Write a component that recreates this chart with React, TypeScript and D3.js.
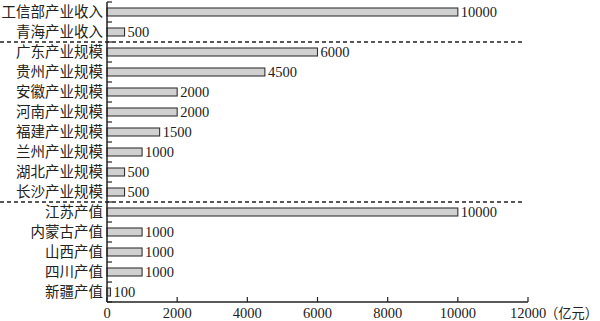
import React from "react";
import * as d3 from "d3";

const categories = [
  "工信部产业收入", "青海产业收入",
  "广东产业规模", "贵州产业规模", "安徽产业规模", "河南产业规模", "福建产业规模", "兰州产业规模", "湖北产业规模", "长沙产业规模",
  "江苏产值", "内蒙古产值", "山西产值", "四川产值", "新疆产值",
];
const values = [10000, 500, 6000, 4500, 2000, 2000, 1500, 1000, 500, 500, 10000, 1000, 1000, 1000, 100];
const xTicks = [0, 2000, 4000, 6000, 8000, 10000, 12000];
const groupBreaks = ["广东产业规模", "江苏产值"];
const unitLabel = "（亿元）";

const W = 600, H = 321;
const FONT_NUM = "'Liberation Serif', 'Noto Sans CJK SC', serif";
const FONT_CJK = "'Liberation Serif', 'Noto Sans CJK SC', serif";

export default function App() {
  const x = d3.scaleLinear().domain([0, 12000]).range([107, 528]);
  const y = d3.scaleBand<string>().domain(categories).range([2, 302]).padding(0);
  const bw = y.bandwidth();
  const barH = bw * 0.4;
  const x0 = x(0);
  const yBottom = y.range()[1];
  const boundaries = categories.map((c) => y(c) as number).concat([yBottom]);
  const ink = "#222";

  return (
    <div style={{ position: "fixed", left: 0, top: 0 }}>
      <svg width={W} height={H} style={{ display: "block", background: "#fff" }}>
        {categories.map((c, i) => (
          <rect
            key={c}
            x={x0}
            y={(y(c) as number) + (bw - barH) / 2}
            width={x(values[i]) - x0}
            height={barH}
            fill="#d0d0d0"
            stroke="#333"
            strokeWidth={1.1}
          />
        ))}
        {categories.map((c, i) => (
          <text
            key={"v" + c}
            x={x(values[i]) + 3}
            y={(y(c) as number) + bw / 2}
            dy="0.35em"
            fontFamily={FONT_NUM}
            fontSize={14.5}
            fill={ink}
          >
            {values[i]}
          </text>
        ))}
        {categories.map((c) => (
          <text
            key={"c" + c}
            x={103}
            y={(y(c) as number) + bw / 2}
            dy="0.36em"
            textAnchor="end"
            fontFamily={FONT_CJK}
            fontSize={14.5}
            fill={ink}
          >
            {c}
          </text>
        ))}
        {groupBreaks.map((c) => (
          <line
            key={"d" + c}
            x1={0}
            x2={523}
            y1={y(c) as number}
            y2={y(c) as number}
            stroke={ink}
            strokeWidth={1.3}
            strokeDasharray="4,3"
          />
        ))}
        <line x1={x0} x2={x0} y1={boundaries[0]} y2={yBottom} stroke={ink} strokeWidth={1.5} />
        {boundaries.map((b, i) => (
          <line key={"yt" + i} x1={x0} x2={x0 + 5} y1={b} y2={b} stroke={ink} strokeWidth={1.2} />
        ))}
        <line x1={x0} x2={x(12000)} y1={yBottom} y2={yBottom} stroke={ink} strokeWidth={1.5} />
        {xTicks.map((t) => (
          <g key={"xt" + t}>
            <line x1={x(t)} x2={x(t)} y1={yBottom} y2={yBottom - 5} stroke={ink} strokeWidth={1.2} />
            <text
              x={x(t)}
              y={313}
              dy="0.35em"
              textAnchor="middle"
              fontFamily={FONT_NUM}
              fontSize={14.5}
              fill={ink}
            >
              {t}
            </text>
          </g>
        ))}
        <text
          x={545}
          y={313}
          dy="0.35em"
          fontFamily={FONT_CJK}
          fontSize={14}
          fill={ink}
          textLength={53}
          lengthAdjust="spacingAndGlyphs"
        >
          {unitLabel}
        </text>
      </svg>
    </div>
  );
}
